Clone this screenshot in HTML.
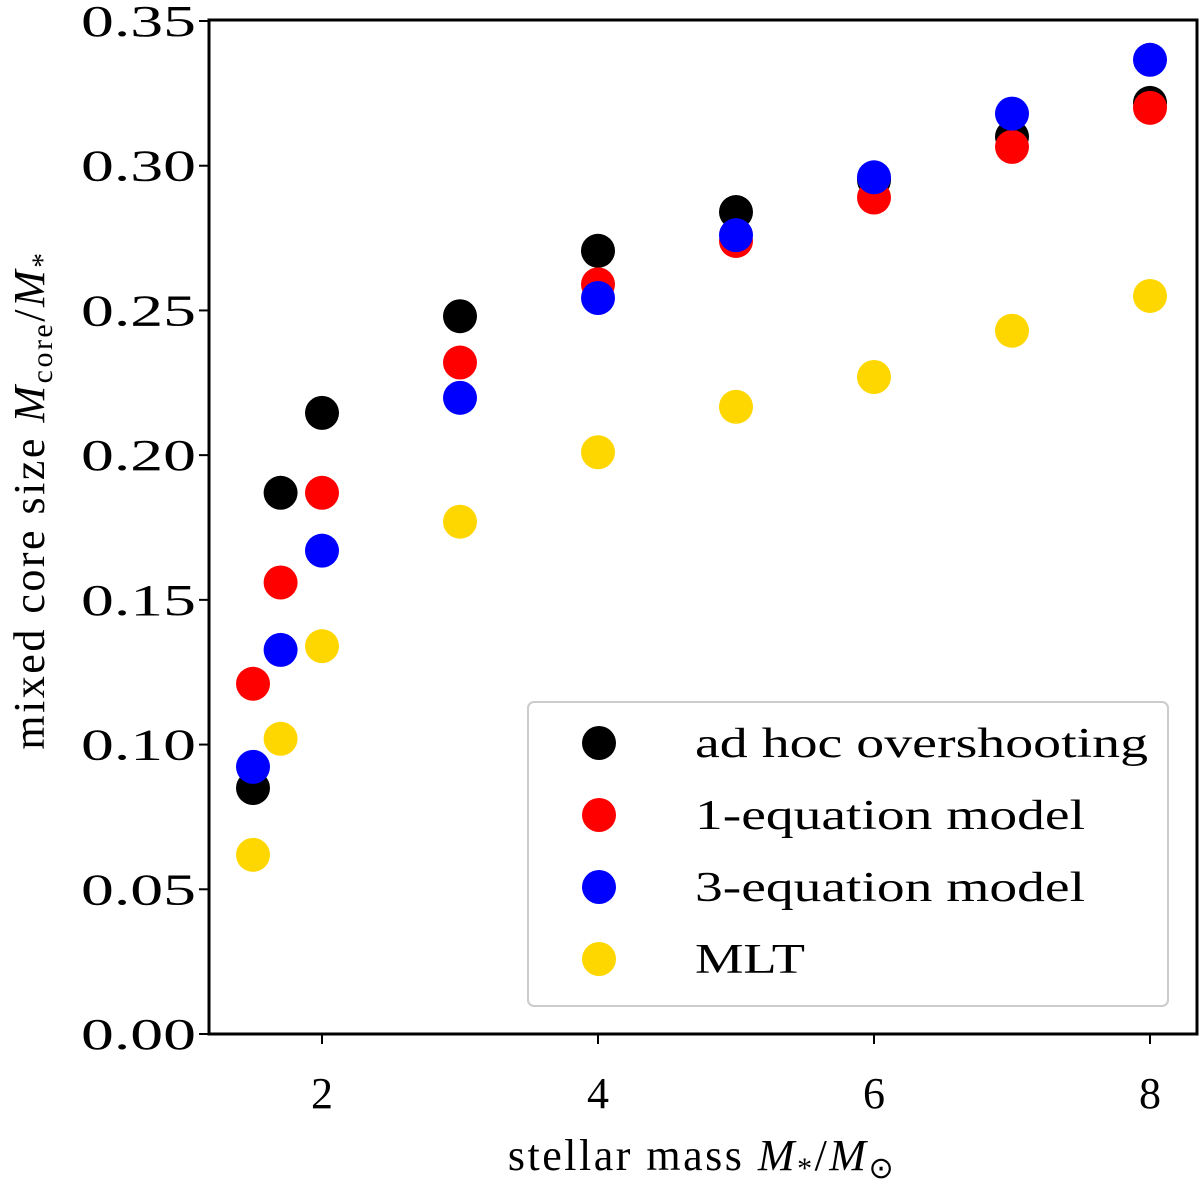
<!DOCTYPE html>
<html><head><meta charset="utf-8"><style>
body{margin:0;background:#fff}
svg text{font-family:"Liberation Serif",serif;fill:#000}
</style></head><body>
<svg id="chart" width="1200" height="1187" xmlns="http://www.w3.org/2000/svg"></svg>
<script>
const masses=[1.5,1.7,2,3,4,5,6,7,8];
const adhoc=[0.085,0.187,0.2146,0.248,0.2706,0.284,0.295,0.310,0.3217];
const oneEq=[0.121,0.156,0.187,0.232,0.259,0.274,0.289,0.3065,0.320];
const threeEq=[0.0923,0.1327,0.167,0.2198,0.2543,0.276,0.296,0.318,0.3366];
const mlt=[0.0619,0.102,0.134,0.177,0.201,0.2167,0.227,0.243,0.255];
const xTicks=[2,4,6,8];
const yTicks=[0,0.05,0.10,0.15,0.20,0.25,0.30,0.35];
const seriesNames=["ad hoc overshooting","1-equation model","3-equation model","MLT"];
const legendWidths=[453,390,390,110];
const NS="http://www.w3.org/2000/svg";
const svg=document.getElementById('chart');
const L=209,R=1197,T=20,B=1034;
const sx=v=>322+(v-2)*138;
const sy=v=>B-v*(B-21)/0.35;
function mk(tag,attrs,parent){const e=document.createElementNS(NS,tag);for(const k in attrs)e.setAttribute(k,attrs[k]);(parent||svg).appendChild(e);return e;}
const frame=mk('rect',{x:L,y:T,width:R-L,height:B-T,fill:'none',stroke:'#000','stroke-width':3});


xTicks.forEach(v=>{
  const l=mk('line',{x1:sx(v),x2:sx(v),y1:B,y2:B+10,stroke:'#000','stroke-width':2});
  
  
  const t=mk('text',{x:sx(v),y:B+74,'text-anchor':'middle','font-size':44});
  t.textContent=v;
  
  
});
yTicks.forEach(v=>{
  const l=mk('line',{x1:L-10,x2:L,y1:sy(v),y2:sy(v),stroke:'#000','stroke-width':2});
  
  
  const t=mk('text',{x:L-13,y:sy(v)+15,'text-anchor':'end','font-size':44,textLength:115,lengthAdjust:'spacingAndGlyphs'});
  t.textContent=v.toFixed(2);
  
  
});
const colors=['#000000','#ff0000','#0000ff','#ffd700'];
const allSeries=[adhoc,oneEq,threeEq,mlt];
allSeries.forEach((s,i)=>{
  s.forEach((v,j)=>{
    const c=mk('circle',{cx:sx(masses[j]),cy:sy(v),r:17,fill:colors[i]});
    
    
  });
});
const lg=mk('g',{});


mk('rect',{x:528,y:702,width:640,height:304,rx:6,fill:'#fff','fill-opacity':0.8,stroke:'#ccc','stroke-width':2},lg);
seriesNames.forEach((n,i)=>{
  const y=743+i*72;
  const c=mk('circle',{cx:599,cy:y,r:17,fill:colors[i]},lg);
  
  
  const t=mk('text',{x:695,y:y+14,'font-size':42,textLength:legendWidths[i],lengthAdjust:'spacingAndGlyphs'},lg);
  t.textContent=n;
  
  
});
const xl=mk('text',{x:702,y:1170,'text-anchor':'middle','font-size':44,'letter-spacing':'2.5'});
xl.innerHTML='stellar mass <tspan font-style="italic">M</tspan><tspan font-size="30" dy="8">*</tspan><tspan dy="-8">/</tspan><tspan font-style="italic">M</tspan><tspan font-size="30" dy="8">⊙</tspan>';


const yl=mk('text',{x:0,y:0,'text-anchor':'middle','font-size':44,'letter-spacing':'2.5',transform:'translate(44,500) rotate(-90)'});
yl.innerHTML='mixed core size <tspan font-style="italic">M</tspan><tspan font-size="30" dy="8">core</tspan><tspan dy="-8">/</tspan><tspan font-style="italic">M</tspan><tspan font-size="30" dy="8">*</tspan>';


</script>
</body></html>
